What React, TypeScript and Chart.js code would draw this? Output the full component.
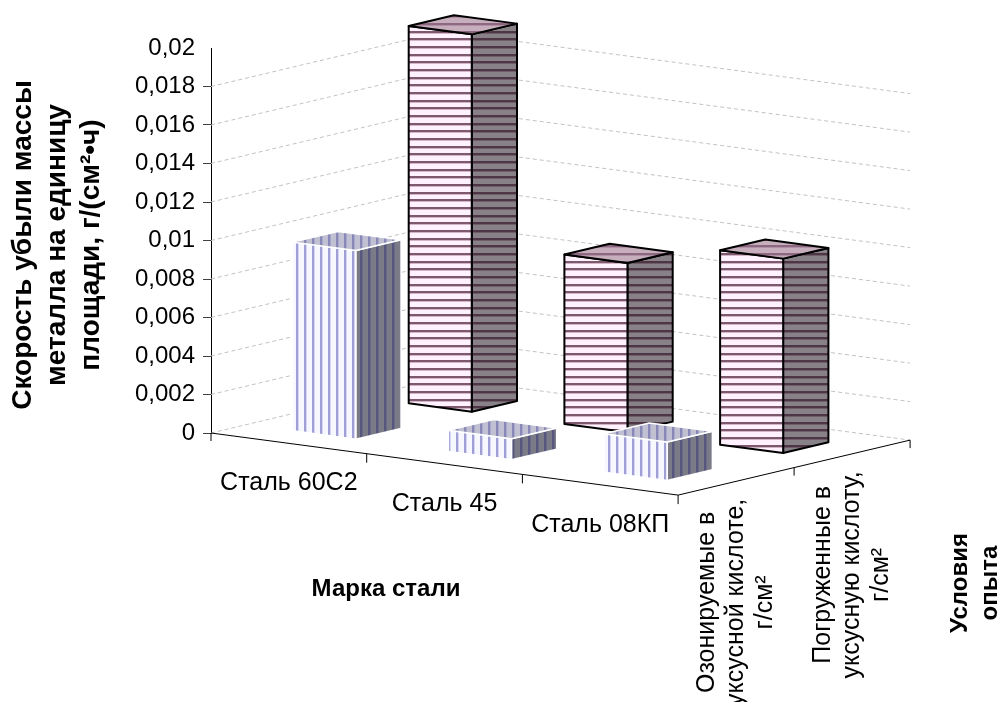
import React, { useEffect, useRef } from 'react';
import { Chart, registerables } from 'chart.js';

Chart.register(...registerables);

// ---- data -----------------------------------------------------------------
const categories = ['Сталь 60С2', 'Сталь 45', 'Сталь 08КП'];
const ozonatedLabel = ['Озонируемые в', 'уксусной кислоте,', 'г/см²'];
const immersedLabel = ['Погруженные в', 'уксусную кислоту,', 'г/см²'];
const ozonatedValues = [0.0098, 0.0011, 0.002];
const immersedValues = [0.0196, 0.0088, 0.0101];
const valueMin = 0;
const valueMax = 0.02;
const valueStep = 0.002;
const valueTitle = ['Скорость убыли массы', 'металла на единицу', 'площади, г/(см²•ч)'];
const categoryTitle = 'Марка стали';
const seriesTitle = ['Условия', 'опыта'];

// ---- look -----------------------------------------------------------------
const FONT = "'Liberation Sans', Arial, Helvetica, sans-serif";
// oblique projection of the floor: one category step and one series step (px)
const CAT_STEP = { x: 155.7, y: 20.7 };
const SERIES_STEP = { x: 116, y: -27.5 };
const BAR_WIDTH = 0.405; // fraction of a category step
const BAR_DEPTH = 0.39; // fraction of a series step

type FaceStyle = { base: string; stripe: string; accent?: string };
type BarStyle = {
  vertical: boolean;
  front: FaceStyle;
  side: FaceStyle;
  top: FaceStyle;
  edge: string;
  edgeWidth: number;
};

const ozonatedStyle: BarStyle = {
  vertical: true,
  front: { base: '#f7f7ff', stripe: '#9f9fd6', accent: '#d6d6f2' },
  side: { base: '#7b7b87', stripe: '#56567e', accent: '#6a6a84' },
  top: { base: '#c0c0d2', stripe: '#8888b8', accent: '#a8a8c8' },
  edge: '#ffffff',
  edgeWidth: 1.5,
};

const immersedStyle: BarStyle = {
  vertical: false,
  front: { base: '#fff2fe', stripe: '#7e586e', accent: '#d2b6c8' },
  side: { base: '#888288', stripe: '#4e3646', accent: '#6e5e68' },
  top: { base: '#c6aebd', stripe: '#8d6880', accent: '#b090a4' },
  edge: '#000000',
  edgeWidth: 2,
};

function makePattern(ctx: CanvasRenderingContext2D, vertical: boolean, f: FaceStyle) {
  const c = document.createElement('canvas');
  const starts = vertical ? [0, 8, 16] : [0, 8, 15];
  const len = vertical ? 24 : 23;
  c.width = vertical ? len : 4;
  c.height = vertical ? 4 : len;
  const g = c.getContext('2d')!;
  g.fillStyle = f.base;
  g.fillRect(0, 0, c.width, c.height);
  for (const s of starts) {
    g.fillStyle = f.stripe;
    if (vertical) g.fillRect(s, 0, 2, c.height);
    else g.fillRect(0, s, c.width, 2);
    if (f.accent) {
      g.fillStyle = f.accent;
      if (vertical) g.fillRect(s + 2, 0, 1, c.height);
      else g.fillRect(0, s + 2, c.width, 1);
    }
  }
  return ctx.createPattern(c, 'repeat')!;
}

function tickText(v: number) {
  return parseFloat(Number(v).toFixed(4)).toString().replace('.', ',');
}

const columns3d = {
  id: 'columns3d',
  beforeDatasetsDraw(chart: any) {
    const ctx: CanvasRenderingContext2D = chart.ctx;
    const yS = chart.scales.y;
    const xS = chart.scales.x;
    const left = chart.chartArea.left;
    const nCat = categories.length;
    const nSer = 2;
    const P = (c: number, s: number, v: number): [number, number] => [
      left + c * CAT_STEP.x + s * SERIES_STEP.x,
      yS.getPixelForValue(v) + c * CAT_STEP.y + s * SERIES_STEP.y,
    ];
    const catCenter = (i: number) => {
      const f = (xS.getPixelForValue(i) - xS.left) / xS.width;
      return Number.isFinite(f) ? f * nCat : i + 0.5;
    };

    // wall gridlines (left wall + back wall)
    ctx.save();
    ctx.setLineDash([4, 3]);
    ctx.strokeStyle = '#c2c2c2';
    ctx.lineWidth = 1;
    for (const t of yS.ticks) {
      if (t.value >= valueMax - 1e-9) continue;
      const a = P(0, 0, t.value);
      const b = P(0, nSer, t.value);
      const c = P(nCat, nSer, t.value);
      ctx.beginPath();
      ctx.moveTo(a[0], a[1]);
      ctx.lineTo(b[0], b[1]);
      ctx.lineTo(c[0], c[1]);
      ctx.stroke();
    }
    ctx.restore();

    // floor axes with tick marks
    ctx.save();
    ctx.strokeStyle = '#000';
    ctx.lineWidth = 1;
    const o = P(0, 0, 0);
    const fr = P(nCat, 0, 0);
    const br = P(nCat, nSer, 0);
    ctx.beginPath();
    ctx.moveTo(o[0], o[1]);
    ctx.lineTo(o[0], o[1] + 8);
    ctx.moveTo(o[0], o[1]);
    ctx.lineTo(fr[0], fr[1]);
    ctx.lineTo(br[0], br[1]);
    for (let i = 1; i <= nCat; i++) {
      const p = P(i, 0, 0);
      ctx.moveTo(p[0], p[1]);
      ctx.lineTo(p[0], p[1] + 9);
    }
    for (let j = 1; j <= nSer; j++) {
      const p = P(nCat, j, 0);
      ctx.moveTo(p[0], p[1]);
      ctx.lineTo(p[0], p[1] + 8);
    }
    ctx.stroke();
    ctx.restore();

    // bars: back row first, then the front row
    const rows = [
      { s: 1, values: immersedValues, style: immersedStyle },
      { s: 0, values: ozonatedValues, style: ozonatedStyle },
    ];
    for (const row of rows) {
      const st = row.style;
      const pFront = makePattern(ctx, st.vertical, st.front);
      const pSide = makePattern(ctx, st.vertical, st.side);
      const pTop = makePattern(ctx, st.vertical, st.top);
      row.values.forEach((v, i) => {
        const cc = catCenter(i);
        const c0 = cc - BAR_WIDTH / 2;
        const c1 = cc + BAR_WIDTH / 2;
        const s0 = row.s + 0.5 - BAR_DEPTH / 2;
        const s1 = row.s + 0.5 + BAR_DEPTH / 2;
        const fbl = P(c0, s0, 0);
        const fbr = P(c1, s0, 0);
        const ftl = P(c0, s0, v);
        const ftr = P(c1, s0, v);
        const bbr = P(c1, s1, 0);
        const btr = P(c1, s1, v);
        const btl = P(c0, s1, v);
        const face = (pts: [number, number][], fill: CanvasPattern) => {
          ctx.beginPath();
          ctx.moveTo(pts[0][0], pts[0][1]);
          for (let k = 1; k < pts.length; k++) ctx.lineTo(pts[k][0], pts[k][1]);
          ctx.closePath();
          ctx.fillStyle = fill;
          ctx.fill();
          ctx.stroke();
        };
        ctx.save();
        ctx.strokeStyle = st.edge;
        ctx.lineWidth = st.edgeWidth;
        ctx.lineJoin = 'round';
        face([fbr, bbr, btr, ftr], pSide);
        face([fbl, fbr, ftr, ftl], pFront);
        face([ftl, ftr, btr, btl], pTop);
        ctx.restore();
      });
    }
    return false;
  },
  afterDraw(chart: any) {
    const ctx: CanvasRenderingContext2D = chart.ctx;
    const yS = chart.scales.y;
    const xS = chart.scales.x;
    const left = chart.chartArea.left;
    const nCat = categories.length;
    const P = (c: number, s: number, v: number): [number, number] => [
      left + c * CAT_STEP.x + s * SERIES_STEP.x,
      yS.getPixelForValue(v) + c * CAT_STEP.y + s * SERIES_STEP.y,
    ];
    const catCenter = (i: number) => {
      const f = (xS.getPixelForValue(i) - xS.left) / xS.width;
      return Number.isFinite(f) ? f * nCat : i + 0.5;
    };
    const block = (lines: string[], cx: number, cy: number, font: string, lh: number, rotated: boolean) => {
      ctx.save();
      ctx.translate(cx, cy);
      if (rotated) ctx.rotate(-Math.PI / 2);
      ctx.font = font;
      ctx.fillStyle = '#000';
      ctx.textAlign = 'center';
      ctx.textBaseline = 'middle';
      const n = lines.length;
      lines.forEach((t, k) => ctx.fillText(t, 0, (k - (n - 1) / 2) * lh));
      ctx.restore();
    };

    // category labels under the front edge
    categories.forEach((name, i) => {
      const p = P(catCenter(i), 0, 0);
      block([name], p[0], p[1] + 40, `25px ${FONT}`, 28, false);
    });
    // series labels under the right edge
    [ozonatedLabel, immersedLabel].forEach((lines, j) => {
      const p = P(nCat, j + 0.5, 0);
      block(lines, p[0], p[1] + 121, `25px ${FONT}`, 29, true);
    });
    // axis titles
    block([categoryTitle], 386, 589, `bold 24px ${FONT}`, 28, false);
    block(seriesTitle, 975, 583, `bold 24px ${FONT}`, 30, true);
    block(valueTitle, 57, 245, `bold 28px ${FONT}`, 34, true);
  },
};

export default function App() {
  const ref = useRef<HTMLCanvasElement>(null);
  useEffect(() => {
    if (!ref.current) return;
    const chart = new Chart(ref.current, {
      type: 'bar',
      data: {
        labels: categories,
        datasets: [
          { label: ozonatedLabel.join(' '), data: ozonatedValues },
          { label: immersedLabel.join(' '), data: immersedValues },
        ],
      },
      options: {
        responsive: false,
        animation: false,
        devicePixelRatio: 1,
        layout: { padding: { left: 0, top: 48, right: 94, bottom: 269 } },
        plugins: { legend: { display: false }, tooltip: { enabled: false } },
        scales: {
          x: { display: false },
          y: {
            min: valueMin,
            max: valueMax,
            afterFit: (s: any) => {
              s.width = 211;
            },
            ticks: {
              stepSize: valueStep,
              color: '#000',
              padding: 8,
              font: { family: FONT, size: 24 },
              callback: (v: any) => tickText(v),
            },
            grid: {
              drawOnChartArea: false,
              tickLength: 8,
              color: (c: any) => (c.tick && c.tick.value > valueMax - 1e-9 ? 'rgba(0,0,0,0)' : '#404040'),
            },
            border: { display: true, color: '#000', width: 1 },
          },
        },
      },
      plugins: [columns3d],
    } as any);
    return () => chart.destroy();
  }, []);
  return (
    <div style={{ position: 'fixed', left: 0, top: 0, width: 1004, height: 702, background: '#fff' }}>
      <canvas ref={ref} width={1004} height={702} style={{ display: 'block', width: 1004, height: 702 }} />
    </div>
  );
}
